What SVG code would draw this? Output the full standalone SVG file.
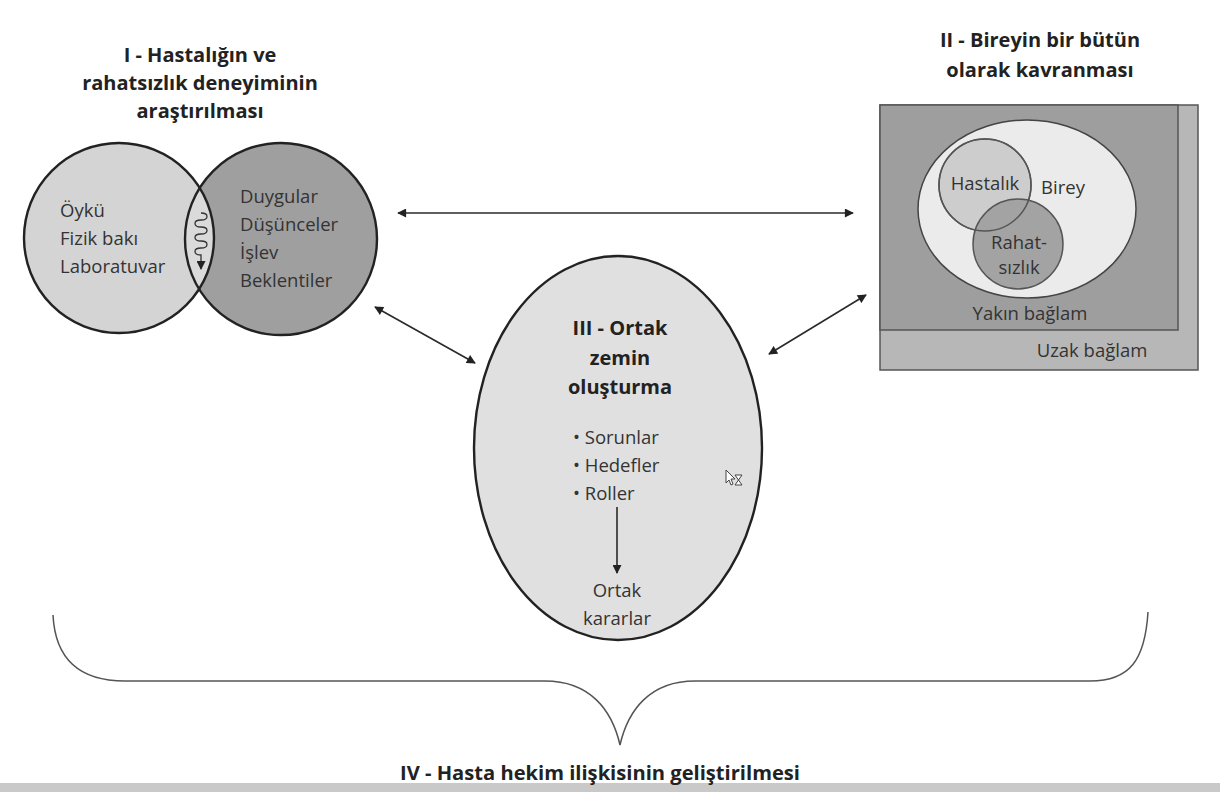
<svg xmlns="http://www.w3.org/2000/svg" width="1220" height="792" viewBox="0 0 1220 792">
  <style>
    text { font-family: "Open Sans", "Noto Sans", "DejaVu Sans", sans-serif; fill: #333; }
    .title { font-weight: bold; font-size: 20px; fill: #222; text-anchor: middle; }
    .body { font-size: 18.5px; }
    .mid { text-anchor: middle; }
    .edge { stroke: #2a2a2a; stroke-width: 1.6; fill: none; }
    .outline { stroke: #222; stroke-width: 2.4; }
  </style>
  <defs>
    <marker id="head" viewBox="0 0 10 10" refX="9" refY="5" markerWidth="10" markerHeight="9" markerUnits="userSpaceOnUse" orient="auto-start-reverse">
      <path d="M0,0 L10,5 L0,10 Z" fill="#222"/>
    </marker>
    <clipPath id="rightDisc">
      <circle cx="281" cy="239" r="96"/>
    </clipPath>
  </defs>

  <rect width="1220" height="792" fill="#ffffff"/>

  <!-- I : illness and disease experience -->
  <g id="node-illness">
    <text class="title" x="200" y="62">I - Hastalığın ve</text>
    <text class="title" x="200" y="90">rahatsızlık deneyiminin</text>
    <text class="title" x="200" y="118">araştırılması</text>
    <circle cx="119" cy="238" r="95" fill="#d4d4d4"/>
    <circle cx="281" cy="239" r="96" fill="#9f9f9f"/>
    <circle cx="119" cy="238" r="95" fill="#dadada" clip-path="url(#rightDisc)"/>
    <circle cx="119" cy="238" r="95" fill="none" class="outline"/>
    <circle cx="281" cy="239" r="96" fill="none" class="outline"/>
    <text class="body" x="60" y="217">Öykü</text>
    <text class="body" x="60" y="245">Fizik bakı</text>
    <text class="body" x="60" y="273">Laboratuvar</text>
    <text class="body" x="240" y="203">Duygular</text>
    <text class="body" x="240" y="231">Düşünceler</text>
    <text class="body" x="240" y="259">İşlev</text>
    <text class="body" x="240" y="287">Beklentiler</text>
    <!-- squiggle inside the overlap -->
    <path d="M201,213 C209,213 209,220 201,220 C193,220 193,227 201,227 C209,227 209,234 201,234 C193,234 193,241 201,241 C209,241 209,248 201,248 C193,248 193,255 201,255 L201,269" fill="none" stroke="#333" stroke-width="1.3" marker-end="url(#head)"/>
  </g>

  <!-- II : the whole person -->
  <g id="node-person">
    <text class="title" x="1040" y="47">II - Bireyin bir bütün</text>
    <text class="title" x="1040" y="77">olarak kavranması</text>
    <rect x="880" y="105" width="318" height="265" fill="#b7b7b7" stroke="#555" stroke-width="1.5"/>
    <rect x="880" y="105" width="298" height="225" fill="#9e9e9e" stroke="#555" stroke-width="1.5"/>
    <ellipse cx="1027" cy="209" rx="109" ry="89" fill="#ebebeb" stroke="#444" stroke-width="1.5"/>
    <circle cx="985" cy="185" r="46" fill="#cdcdcd" stroke="#555" stroke-width="1.5"/>
    <circle cx="1018" cy="244" r="45" fill="#a3a3a3" stroke="#555" stroke-width="1.5"/>
    <circle cx="985" cy="185" r="46" fill="none" stroke="#555" stroke-width="1.5"/>
    <text class="body mid" x="985" y="190">Hastalık</text>
    <text class="body mid" x="1063" y="194">Birey</text>
    <text class="body mid" x="1019" y="249">Rahat-</text>
    <text class="body mid" x="1019" y="274">sızlık</text>
    <text class="body mid" x="1030" y="320">Yakın bağlam</text>
    <text class="body mid" x="1092" y="357">Uzak bağlam</text>
  </g>

  <!-- III : finding common ground -->
  <g id="node-common-ground">
    <ellipse cx="618" cy="448" rx="144" ry="192" fill="#e0e0e0" class="outline"/>
    <text class="title" x="620" y="335">III - Ortak</text>
    <text class="title" x="620" y="365">zemin</text>
    <text class="title" x="620" y="394">oluşturma</text>
    <text class="body" x="573" y="444">• Sorunlar</text>
    <text class="body" x="573" y="472">• Hedefler</text>
    <text class="body" x="573" y="500">• Roller</text>
    <text class="body mid" x="617" y="597">Ortak</text>
    <text class="body mid" x="617" y="625">kararlar</text>
    <!-- pointer cursor -->
    <g transform="translate(726,470)">
      <path d="M0,0 L0,13 L3,10 L5,15 L7,14 L5,9 L9,9 Z" fill="#fff" stroke="#444" stroke-width="1"/>
      <path d="M9,5 L16,5 L12.5,10 L16,15 L9,15 L12.5,10 Z" fill="#fff" stroke="#444" stroke-width="1"/>
    </g>
  </g>

  <!-- IV : enhancing the patient-doctor relationship -->
  <g id="node-relationship">
    <path d="M53,615 C55,655 75,681 125,681 L545,681 C590,681 612,710 620,745 C628,710 650,681 695,681 L1090,681 C1130,681 1145,660 1148,612" fill="none" stroke="#555" stroke-width="1.5"/>
    <rect x="0" y="783" width="1220" height="9" fill="#c9c9c9"/>
    <text class="title" x="600" y="780" textLength="400" lengthAdjust="spacingAndGlyphs">IV - Hasta hekim ilişkisinin geliştirilmesi</text>
  </g>

  <!-- connectors -->
  <g id="connectors">
    <line class="edge" x1="398" y1="213" x2="853" y2="213" marker-start="url(#head)" marker-end="url(#head)"/>
    <line class="edge" x1="375" y1="307" x2="475" y2="363" marker-start="url(#head)" marker-end="url(#head)"/>
    <line class="edge" x1="769" y1="354" x2="866" y2="295" marker-start="url(#head)" marker-end="url(#head)"/>
    <line class="edge" x1="617" y1="507" x2="617" y2="573" marker-end="url(#head)"/>
  </g>
</svg>
